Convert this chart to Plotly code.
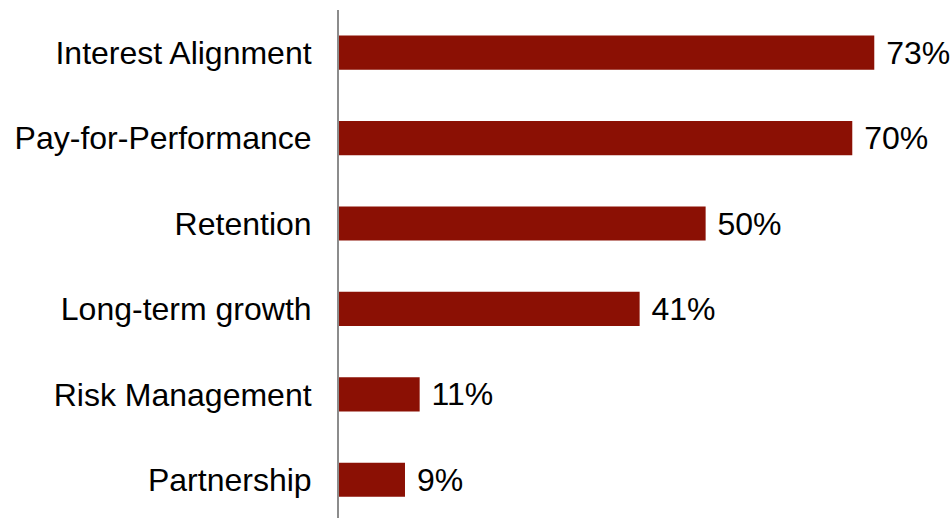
import plotly.graph_objects as go

# Survey results: share of respondents citing each objective
categories = [
    "Interest Alignment",
    "Pay-for-Performance",
    "Retention",
    "Long-term growth",
    "Risk Management",
    "Partnership",
]
values = [73, 70, 50, 41, 11, 9]
labels = [f"{v}%" for v in values]

BAR_COLOR = "#8B1004"
FONT = "Liberation Sans, Arial, sans-serif"

fig = go.Figure(
    go.Bar(
        x=values,
        y=categories,
        orientation="h",
        width=0.4,
        marker=dict(color=BAR_COLOR, line=dict(width=0)),
        text=labels,
        texttemplate=" %{text}",
        textposition="outside",
        constraintext="none",
        textfont=dict(family=FONT, size=32, color="#000000"),
        cliponaxis=False,
        hoverinfo="skip",
    )
)

fig.update_layout(
    width=952,
    height=518,
    margin=dict(l=339, r=0, t=10, b=0, pad=0),
    paper_bgcolor="white",
    plot_bgcolor="white",
    showlegend=False,
    font=dict(family=FONT, size=32, color="#000000"),
)

fig.update_xaxes(
    range=[0, 83.6],
    visible=False,
    showgrid=False,
    zeroline=False,
    automargin=False,
)

fig.update_yaxes(
    type="category",
    categoryorder="array",
    categoryarray=categories,
    range=[5.448, -0.5],
    showline=True,
    linecolor="#8c8c8c",
    linewidth=2,
    showgrid=False,
    zeroline=False,
    ticks="",
    ticklabelstandoff=19,
    tickfont=dict(family=FONT, size=32, color="#000000"),
    automargin=False,
)

fig.write_html("out.html")
